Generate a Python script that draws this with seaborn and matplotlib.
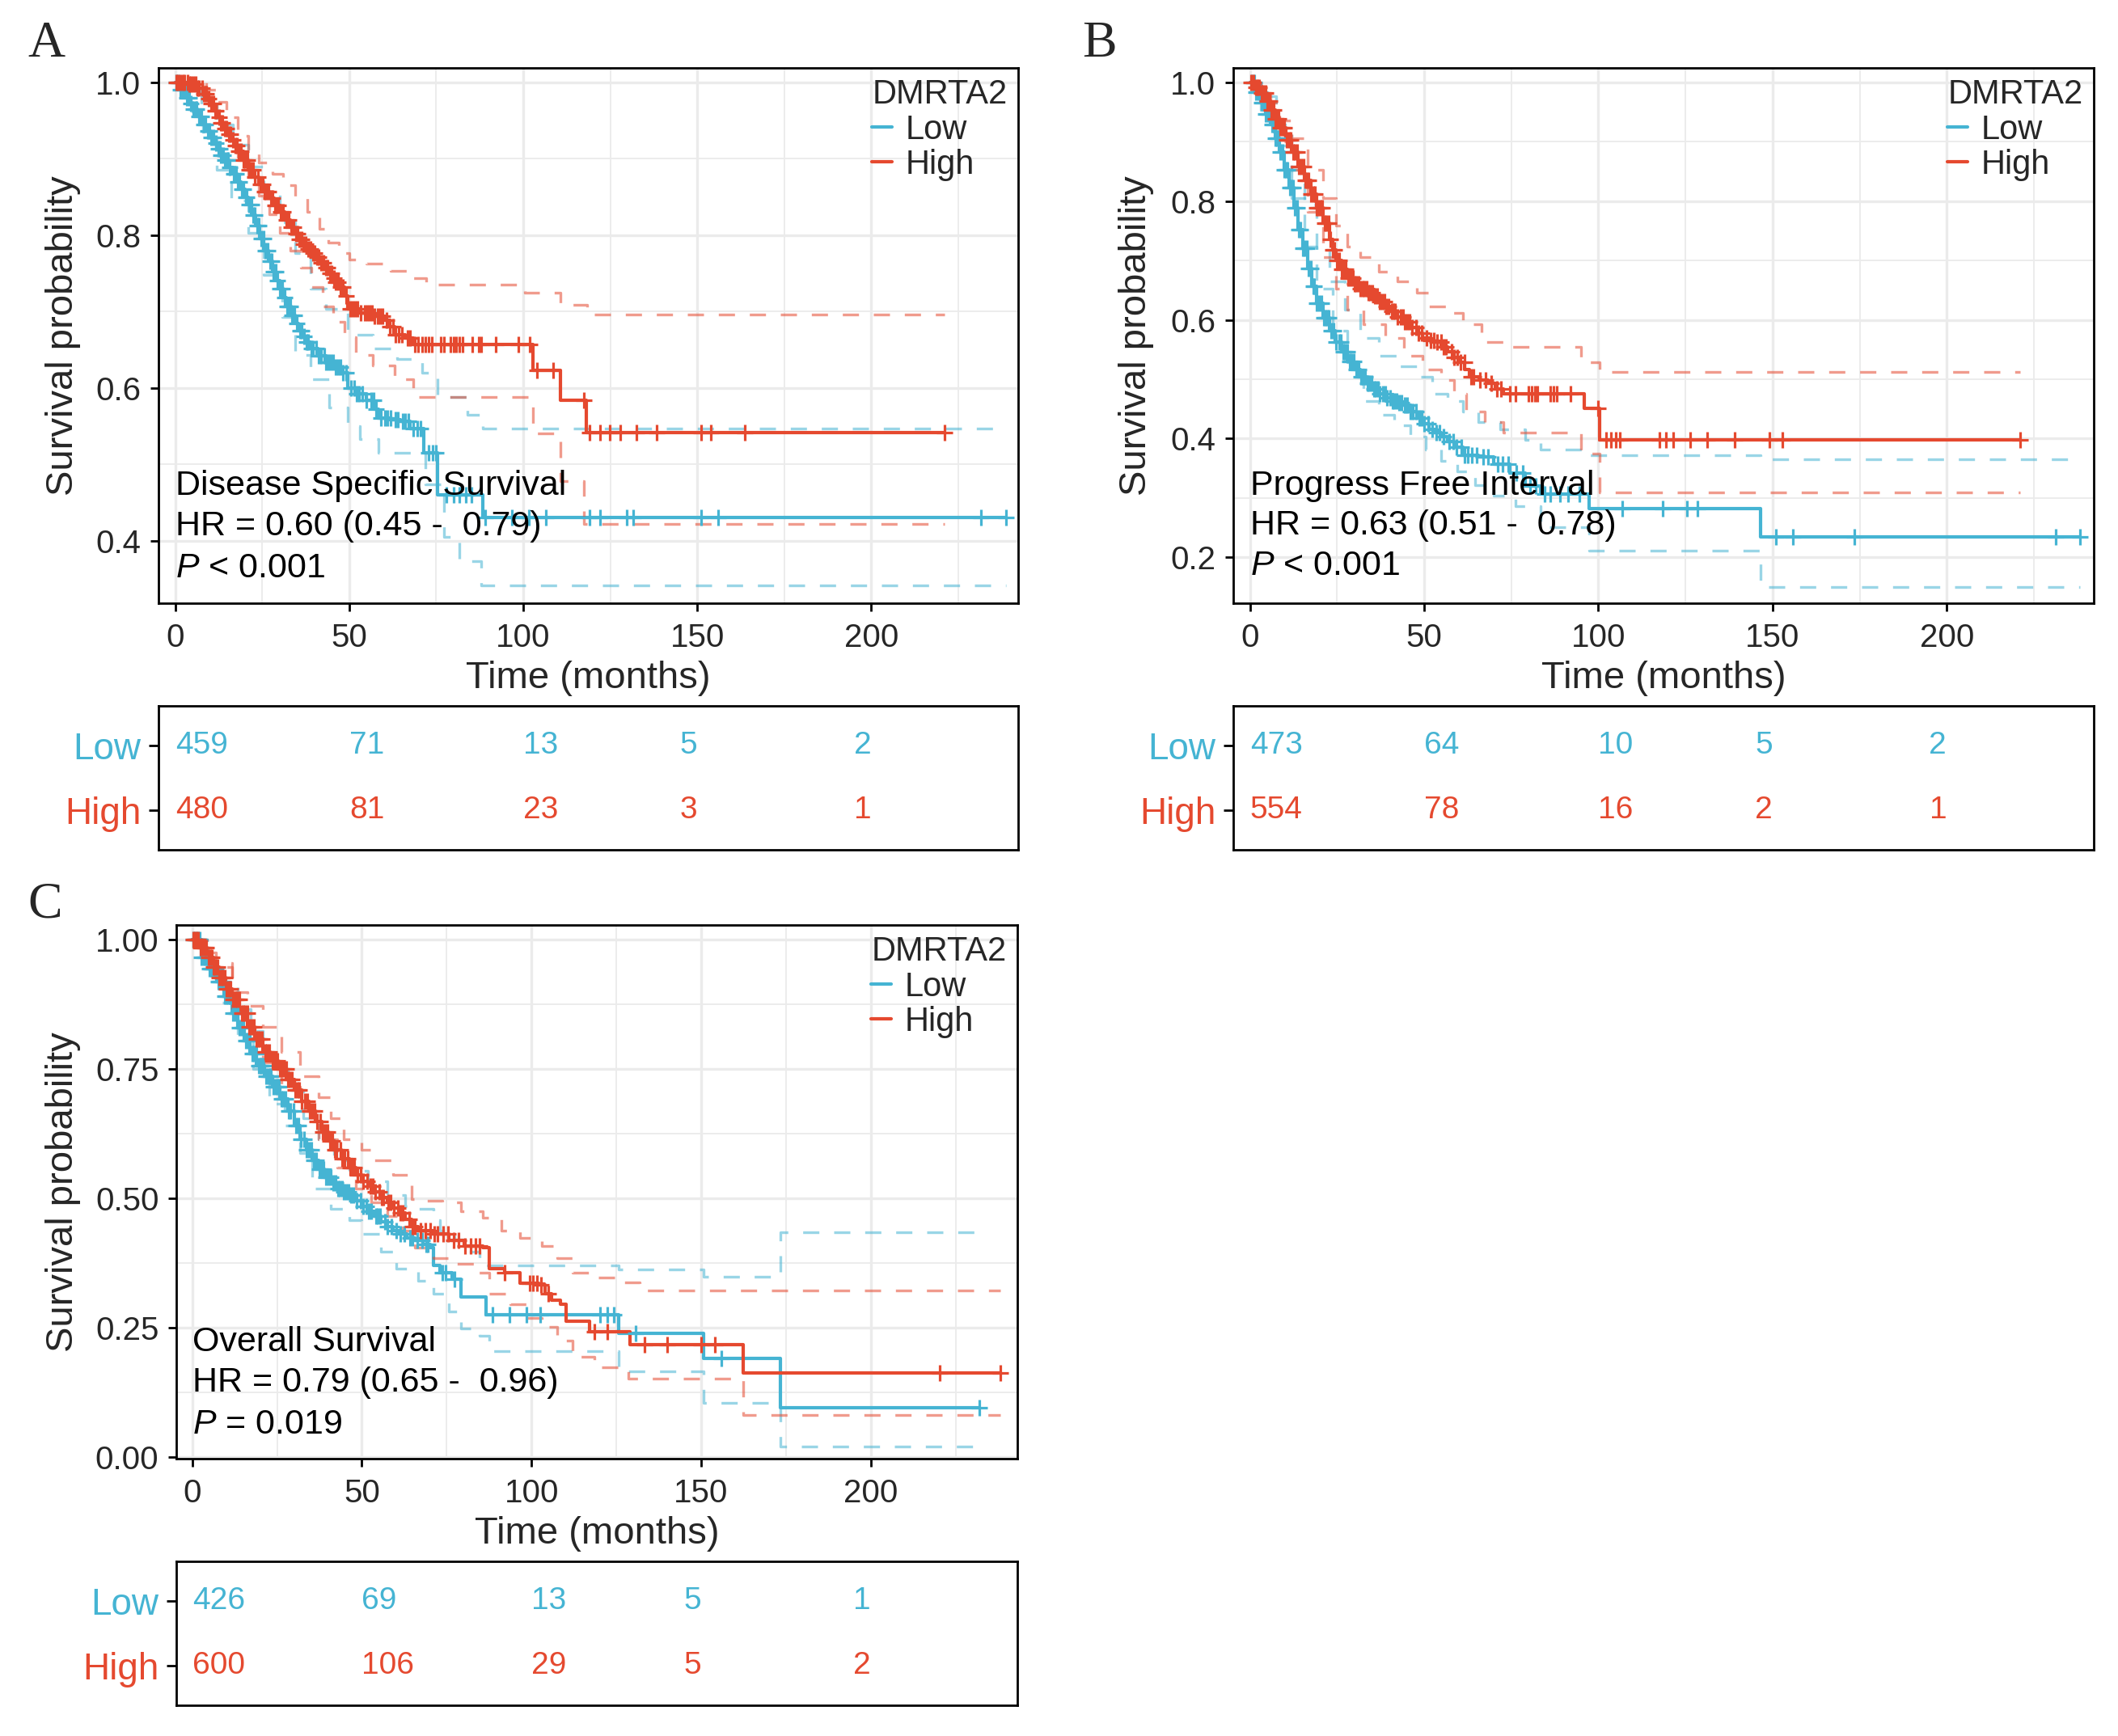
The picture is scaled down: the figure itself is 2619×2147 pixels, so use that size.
import numpy as np
import pandas as pd
import matplotlib
matplotlib.use("Agg")
import matplotlib.pyplot as plt
from matplotlib.lines import Line2D
import seaborn as sns

# colours (npg style)
LOW_COLOR = "#45B4D3"
HIGH_COLOR = "#E5492F"
GROUPS = ["Low", "High"]
RISK_TIMES = [0, 50, 100, 150, 200]

# ---------------- Panel A : Disease Specific Survival ----------------
A_low_t = [0, 1.5, 3, 4.2, 5, 6.3, 7.6, 8.8, 10, 11, 12, 13, 14, 15.3, 16.5, 17.8, 19, 20, 21, 22, 23, 24.2,
           25.4, 26.7, 28, 29, 30, 31, 32, 33.2, 34.4, 35.4, 36.5, 37.6, 38.8, 41, 43.3, 45.5, 47.8, 49.5,
           52, 55, 57, 58.5, 62, 64.7, 67.4, 71.4, 75.4, 88.4, 238.7]
A_low_s = [1.0, 0.99, 0.98, 0.972, 0.965, 0.955, 0.945, 0.936, 0.928, 0.92, 0.913, 0.905, 0.898, 0.889, 0.88,
           0.87, 0.86, 0.85, 0.84, 0.826, 0.812, 0.796, 0.78, 0.766, 0.752, 0.741, 0.73, 0.718, 0.707, 0.695,
           0.684, 0.675, 0.667, 0.66, 0.652, 0.642, 0.634, 0.627, 0.62, 0.60, 0.592, 0.584, 0.572, 0.56, 0.558,
           0.556, 0.547, 0.515, 0.46, 0.43, 0.43]
A_high_t = [0, 4, 6, 8, 9, 10, 11, 12, 13, 14, 15, 16, 17, 18, 19.5, 21, 22.5, 24, 25.5, 27, 28.5, 30, 31.5,
            33, 34.2, 35.5, 36.8, 38, 39.3, 40.6, 41.8, 43, 44, 45, 46, 47, 48.7, 49.5, 53, 57, 60.3, 61.7,
            63, 66, 68.3, 102.7, 110.7, 118.1, 221]
A_high_s = [1.0, 0.998, 0.992, 0.985, 0.979, 0.972, 0.963, 0.954, 0.947, 0.94, 0.932, 0.925, 0.917, 0.91,
            0.898, 0.886, 0.876, 0.866, 0.857, 0.848, 0.839, 0.83, 0.82, 0.81, 0.802, 0.794, 0.788, 0.782,
            0.776, 0.771, 0.764, 0.757, 0.75, 0.744, 0.738, 0.732, 0.72, 0.703, 0.698, 0.694, 0.689, 0.68,
            0.67, 0.665, 0.657, 0.623, 0.584, 0.541, 0.541]
A_low_up_t = [0, 3, 7.6, 12, 16.5, 21, 25.4, 30, 34.4, 38.8, 43.3, 49.5, 56.7, 63.8, 71, 75.4, 84, 88.4, 238.7]
A_low_up_s = [1.0, 0.99, 0.97, 0.945, 0.918, 0.89, 0.858, 0.817, 0.776, 0.73, 0.703, 0.67, 0.652, 0.638,
              0.62, 0.588, 0.565, 0.547, 0.547]
A_low_lo_t = [0, 2, 5, 8, 12, 16, 21, 25.4, 30.8, 34.4, 38.8, 44.2, 49.5, 53, 58.5, 71.9, 77.2, 81.7, 88, 238.7]
A_low_lo_s = [1.0, 0.975, 0.954, 0.925, 0.886, 0.845, 0.803, 0.748, 0.693, 0.643, 0.611, 0.574, 0.55, 0.533,
              0.515, 0.474, 0.405, 0.373, 0.341, 0.341]
A_high_up_t = [0, 5.8, 9, 12, 14.7, 18, 21, 24, 28, 31, 34.4, 38, 41.5, 44, 46.9, 50, 55, 62, 68.3, 72,
               100.4, 110.7, 118.3, 221]
A_high_up_s = [1.0, 1.0, 0.99, 0.975, 0.954, 0.93, 0.91, 0.895, 0.88, 0.865, 0.849, 0.83, 0.808, 0.79, 0.776,
               0.768, 0.763, 0.753, 0.744, 0.735, 0.725, 0.709, 0.696, 0.696]
A_high_lo_t = [0, 5.8, 9, 12, 15, 18, 21, 24, 27, 30, 33, 36, 39, 42.4, 45.5, 48.7, 52, 56.7, 63, 68.3,
               102.7, 110.7, 117.5, 221]
A_high_lo_s = [1.0, 0.995, 0.975, 0.954, 0.93, 0.903, 0.876, 0.852, 0.827, 0.803, 0.78, 0.757, 0.732, 0.707,
               0.686, 0.666, 0.643, 0.629, 0.611, 0.588, 0.54, 0.478, 0.422, 0.422]
A_low_cens = [0.4, 0.9, 1.5, 2.1, 2.8, 3.3, 4.1, 4.6, 5.3, 5.8, 6.2, 6.9, 7.4, 8.1, 8.7, 9.3, 9.8, 10.2, 10.9,
              11.6, 12.4, 12.9, 13.1, 13.8, 14.3, 14.9, 15.2, 15.7, 16.8, 17.1, 17.5, 18.0, 18.4, 19.1, 19.7,
              20.2, 20.6, 21.3, 21.9, 22.4, 22.8, 23.5, 24.1, 24.7, 25.3, 25.9, 26.6, 27.2, 27.8, 28.3, 28.9,
              29.4, 30.1, 30.8, 31.5, 32.2, 32.7, 33.1, 33.6, 34.3, 34.9, 35.8, 36.4, 37.1, 37.7, 38.3, 39.0,
              39.6, 40.4, 41.2, 41.9, 42.8, 43.3, 43.9, 44.6, 45.3, 46.0, 46.7, 47.4, 48.2, 49.1, 50.6, 51.4,
              52.2, 52.9, 53.8, 55.0, 56.2, 56.9, 57.6, 59.1, 60.3, 61.0, 61.8, 63.2, 64.0, 65.4, 66.1, 67.0,
              68.5, 69.6, 70.4, 72.8, 74.0, 75.0, 78.0, 80.1, 81.7, 83.5, 85.2, 89.0, 96.8, 101.6, 106.5,
              119.0, 122.0, 129.7, 131.6, 151.0, 155.9, 231.4, 238.7]
A_high_cens = [0.3, 0.8, 1.4, 2.2, 2.7, 3.5, 4.0, 4.6, 5.2, 5.8, 6.4, 6.9, 7.7, 8.3, 8.8, 9.6, 10.3, 10.9, 11.4,
               11.8, 12.7, 13.2, 13.6, 14.3, 14.8, 15.4, 15.9, 16.6, 17.2, 17.8, 18.3, 18.9, 19.5, 20.1, 20.7,
               21.2, 21.6, 22.3, 22.9, 23.8, 24.5, 25.1, 25.7, 26.2, 26.8, 27.4, 28.0, 28.6, 29.1, 29.7, 30.3,
               30.9, 31.8, 32.5, 33.2, 33.9, 34.6, 35.2, 35.7, 36.3, 36.9, 37.6, 38.2, 38.8, 39.5, 40.1, 40.7,
               41.3, 41.9, 42.6, 43.2, 43.8, 44.4, 44.9, 45.6, 46.1, 46.8, 47.4, 48.2, 49.0, 50.3, 50.9, 51.6,
               52.4, 53.3, 54.5, 55.2, 55.8, 56.5, 57.2, 58.1, 58.9, 59.6, 60.8, 61.7, 62.5, 63.3, 64.3, 65.1,
               66.7, 67.5, 68.9, 69.8, 71.0, 71.9, 72.8, 73.7, 76.3, 77.2, 79.0, 79.9, 80.8, 81.7, 82.6, 85.3,
               87.1, 88.0, 92.0, 98.7, 101.8, 104.0, 108.5, 117.5, 119.1, 122.0, 124.9, 127.8, 132.6, 138.4,
               151.0, 153.9, 163.6, 221.0]
A_risk_low = [459, 71, 13, 5, 2]
A_risk_high = [480, 81, 23, 3, 1]

# ---------------- Panel B : Progress Free Interval ----------------
B_low_t = [0, 1.5, 3.1, 4.5, 5.8, 7.2, 8.5, 9.8, 11.2, 12.5, 13.8, 15.1, 16.5, 17.8, 19.2, 21, 22.8, 24.5,
           26.3, 28, 29.9, 31.7, 33.5, 35.3, 37.1, 38.9, 40.6, 42.4, 44.2, 46, 47.8, 49.5, 51.3, 53.1, 54.9,
           56.7, 58.5, 61.2, 65.6, 70, 74.6, 79, 83.5, 97.3, 146.5, 238.3]
B_low_s = [1.0, 0.983, 0.965, 0.947, 0.929, 0.906, 0.882, 0.853, 0.823, 0.788, 0.752, 0.72, 0.687, 0.657,
           0.628, 0.603, 0.581, 0.562, 0.546, 0.53, 0.516, 0.504, 0.493, 0.484, 0.475, 0.469, 0.463, 0.46,
           0.457, 0.445, 0.434, 0.425, 0.416, 0.41, 0.404, 0.395, 0.386, 0.372, 0.369, 0.357, 0.342, 0.321,
           0.307, 0.282, 0.235, 0.235]
B_high_t = [0, 1.6, 3.1, 4.5, 5.8, 7.2, 8.5, 10.2, 12, 13.8, 15.6, 17.4, 19.2, 21, 22.8, 23.7, 24.6, 26.3, 28,
            29.9, 31.7, 33.5, 35.3, 37.1, 38.8, 40.6, 42.4, 44.2, 46, 47.8, 49.5, 51.3, 53, 54.9, 56.7, 58.5,
            60.3, 61.7, 63, 65.7, 68.3, 70.5, 72.8, 96, 100.4, 221]
B_high_s = [1.0, 0.992, 0.982, 0.968, 0.953, 0.938, 0.923, 0.903, 0.882, 0.858, 0.835, 0.812, 0.788, 0.762,
            0.735, 0.718, 0.70, 0.685, 0.67, 0.661, 0.652, 0.646, 0.64, 0.631, 0.622, 0.614, 0.605, 0.596,
            0.587, 0.578, 0.569, 0.566, 0.563, 0.555, 0.546, 0.537, 0.528, 0.516, 0.504, 0.498, 0.493, 0.484,
            0.475, 0.451, 0.398, 0.398]
B_low_up_t = [0, 3.1, 7.6, 12, 15.6, 19.2, 22.8, 27.2, 31.7, 37.1, 42.4, 47.8, 52.2, 56.7, 61.2, 65.6, 71.9,
              79, 83.5, 97.3, 146.5, 238.3]
B_low_up_s = [1.0, 0.976, 0.929, 0.853, 0.794, 0.717, 0.664, 0.617, 0.569, 0.54, 0.522, 0.504, 0.475, 0.463,
              0.445, 0.428, 0.416, 0.398, 0.381, 0.372, 0.365, 0.365]
B_low_lo_t = [0, 3.1, 7.6, 12, 15.6, 19.2, 23.7, 28, 32.6, 37.1, 41.5, 46, 50.4, 54.9, 59.4, 64.7, 70, 76.3,
              83.5, 97.3, 146.5, 238.3]
B_low_lo_s = [1.0, 0.953, 0.894, 0.805, 0.723, 0.652, 0.581, 0.528, 0.463, 0.44, 0.422, 0.404, 0.381, 0.363,
              0.345, 0.322, 0.304, 0.286, 0.251, 0.212, 0.15, 0.15]
B_high_up_t = [0, 3, 5.8, 8.5, 12, 16.5, 21, 24.6, 28, 31.7, 37.1, 42.4, 47.8, 51.3, 56.7, 61.2, 66.5, 72.8,
               95.1, 100.4, 221]
B_high_up_s = [1.0, 0.99, 0.965, 0.935, 0.906, 0.853, 0.805, 0.758, 0.723, 0.705, 0.681, 0.664, 0.646, 0.622,
               0.611, 0.593, 0.563, 0.555, 0.528, 0.512, 0.512]
B_high_lo_t = [0, 3, 5.8, 8.5, 12, 16.5, 21, 24.6, 28, 32.6, 38.8, 44.2, 49.5, 54.9, 58.5, 62, 67.4, 72.8,
               95, 100.4, 221]
B_high_lo_s = [1.0, 0.97, 0.941, 0.9, 0.853, 0.782, 0.705, 0.652, 0.617, 0.593, 0.569, 0.54, 0.516, 0.499,
               0.475, 0.445, 0.428, 0.41, 0.375, 0.309, 0.309]
B_low_cens = [0.5, 1.2, 1.8, 2.4, 2.9, 3.3, 3.9, 4.5, 5.2, 5.7, 6.4, 6.9, 7.3, 7.8, 8.1, 8.7, 9.4, 9.9, 10.2,
              10.8, 11.5, 11.9, 12.3, 12.9, 13.6, 14.0, 14.4, 15.1, 15.7, 16.3, 16.9, 17.6, 18.1, 18.5, 19.2,
              19.8, 20.4, 21.1, 21.7, 22.2, 22.6, 23.3, 23.9, 24.8, 25.5, 26.1, 26.7, 27.3, 27.9, 28.6, 29.2,
              29.8, 30.5, 31.2, 31.8, 32.4, 33.1, 33.7, 34.3, 34.9, 35.5, 36.1, 36.7, 37.3, 38.2, 38.8, 39.4,
              40.3, 40.9, 41.5, 42.1, 42.7, 43.6, 44.4, 45.2, 46.0, 46.8, 47.6, 48.5, 49.3, 50.1, 51.2, 52.3,
              53.4, 54.5, 55.6, 57.1, 58.3, 59.2, 60.7, 61.6, 62.5, 63.8, 65.0, 66.9, 68.3, 71.2, 72.6, 74.1,
              76.5, 78.2, 80.4, 82.1, 84.6, 86.3, 88.9, 91.2, 94.5, 106.8, 118.5, 125.4, 128.4, 150.9, 155.8,
              173.5, 231.4, 238.3]
B_high_cens = [0.4, 1.0, 1.6, 2.2, 2.7, 3.3, 3.8, 4.4, 4.9, 5.7, 6.2, 6.8, 7.2, 7.6, 8.2, 8.7, 9.3, 9.9,
               10.6, 11.2, 11.8, 12.4, 12.9, 13.5, 14.1, 14.7, 15.3, 15.8, 16.4, 16.9, 17.5, 18.1, 18.7, 19.2,
               19.6, 20.2, 20.8, 21.4, 21.9, 22.5, 23.1, 23.7, 24.3, 25.0, 25.6, 26.4, 27.0, 27.5, 28.2, 28.8,
               29.6, 30.1, 30.5, 31.2, 31.7, 32.3, 32.8, 33.4, 34.0, 34.5, 35.2, 35.8, 36.6, 37.2, 37.9, 38.5,
               39.1, 39.8, 40.6, 41.1, 41.7, 42.4, 43.2, 43.9, 44.5, 45.1, 45.8, 46.5, 47.6, 48.3, 49.2, 50.8,
               51.9, 52.7, 53.6, 54.8, 55.5, 56.3, 57.9, 58.6, 59.5, 60.4, 61.6, 63.4, 64.2, 65.9, 67.7, 69.3,
               70.8, 72.1, 74.6, 76.3, 79.9, 80.8, 81.7, 82.6, 86.2, 87.1, 88.0, 92.0, 100.0, 102.2, 103.6,
               104.9, 106.2, 117.6, 119.5, 121.5, 126.4, 131.3, 139.2, 149.0, 152.9, 221.0]
B_risk_low = [473, 64, 10, 5, 2]
B_risk_high = [554, 78, 16, 2, 1]

# ---------------- Panel C : Overall Survival ----------------
C_low_t = [0, 2.6, 4.8, 7.1, 9.4, 11.7, 13.5, 15.3, 17.1, 19, 21.3, 23.6, 25.8, 28.1, 30, 31.8, 33.6, 35.4,
           37.2, 39, 40.9, 42.7, 44.6, 46.4, 48.2, 50, 51.9, 53.7, 55.5, 57.4, 59.2, 61, 63.3, 65.6, 67.9,
           70.1, 71, 72.9, 76.5, 79.3, 86.6, 125.7, 150.6, 173.4, 231.9]
C_low_s = [1.0, 0.966, 0.943, 0.919, 0.89, 0.858, 0.83, 0.804, 0.78, 0.756, 0.736, 0.716, 0.692, 0.668,
           0.641, 0.614, 0.594, 0.573, 0.556, 0.54, 0.529, 0.519, 0.512, 0.506, 0.495, 0.485, 0.475, 0.465,
           0.455, 0.445, 0.438, 0.431, 0.424, 0.418, 0.411, 0.404, 0.37, 0.357, 0.343, 0.309, 0.275, 0.239,
           0.191, 0.096, 0.096]
C_high_t = [0, 2.2, 4.4, 6.2, 8, 9.9, 11.7, 14, 16.3, 18.5, 20.8, 23, 25.4, 27.7, 30, 32.2, 34.5, 36.3, 38.2,
            40, 41.8, 44, 46.4, 48.2, 50, 51.8, 53.7, 55.5, 57.4, 59.2, 61, 62.8, 64.7, 66.5, 71, 75.6, 80.2,
            85.7, 87.5, 92, 96.6, 102, 104, 105.8, 108.5, 110.3, 117, 129, 162.5, 238.3]
C_high_s = [1.0, 0.985, 0.966, 0.946, 0.926, 0.905, 0.885, 0.858, 0.831, 0.807, 0.783, 0.766, 0.75, 0.73,
            0.709, 0.688, 0.668, 0.648, 0.628, 0.611, 0.594, 0.577, 0.56, 0.546, 0.533, 0.523, 0.513, 0.502,
            0.492, 0.482, 0.472, 0.459, 0.445, 0.438, 0.431, 0.418, 0.408, 0.404, 0.364, 0.357, 0.336, 0.333,
            0.316, 0.303, 0.296, 0.262, 0.243, 0.218, 0.163, 0.163]
C_low_up_t = [0, 4.4, 9, 13.5, 17.2, 20.8, 24.5, 28.1, 32.7, 37.3, 41.8, 46.4, 51.9, 57.4, 62.8, 66.5, 71,
              72.9, 77.4, 80.2, 84.8, 125.7, 150.6, 173.4, 231.9]
C_low_up_s = [1.0, 0.96, 0.912, 0.865, 0.824, 0.783, 0.75, 0.709, 0.655, 0.614, 0.573, 0.553, 0.533, 0.506,
              0.485, 0.479, 0.458, 0.438, 0.421, 0.397, 0.37, 0.362, 0.348, 0.434, 0.434]
C_low_lo_t = [0, 4.4, 9, 13.5, 18, 22.6, 27.2, 31.8, 35.4, 40.9, 46.4, 50, 55.5, 60.1, 66.5, 71, 75.6, 79.3,
              84.8, 87.5, 125.7, 150.6, 173.4, 231.9]
C_low_lo_s = [1.0, 0.946, 0.878, 0.81, 0.75, 0.682, 0.641, 0.587, 0.519, 0.479, 0.458, 0.431, 0.397, 0.364,
              0.34, 0.316, 0.282, 0.248, 0.235, 0.204, 0.165, 0.104, 0.021, 0.021]
C_high_up_t = [0, 4, 7, 11.7, 16.3, 20.8, 26.3, 31.8, 37.3, 40.9, 44.6, 50, 53.7, 59.2, 64.7, 68.3, 73.8,
               79.3, 85.7, 91.1, 96.6, 103, 107.6, 112, 118.5, 125, 132, 238.3]
C_high_up_s = [1.0, 0.975, 0.946, 0.898, 0.871, 0.831, 0.783, 0.736, 0.695, 0.655, 0.614, 0.594, 0.573, 0.546,
               0.499, 0.496, 0.492, 0.475, 0.462, 0.438, 0.424, 0.408, 0.384, 0.357, 0.347, 0.338, 0.322, 0.322]
C_high_lo_t = [0, 4.4, 11.7, 16.3, 20.8, 26.3, 31.8, 37.3, 42.7, 48.2, 52.8, 57.4, 61.9, 65.6, 71, 77.4,
               82.9, 87.5, 93.8, 98.4, 103, 107.6, 112, 118.5, 128.6, 162.5, 238.3]
C_high_lo_s = [1.0, 0.955, 0.865, 0.81, 0.763, 0.716, 0.668, 0.614, 0.56, 0.519, 0.492, 0.465, 0.438, 0.404,
               0.384, 0.374, 0.357, 0.316, 0.296, 0.269, 0.252, 0.225, 0.194, 0.174, 0.152, 0.082, 0.082]
C_low_cens = [0.4, 0.9, 1.3, 1.8, 2.2, 2.8, 3.4, 3.9, 4.6, 5.0, 5.5, 5.9, 6.3, 6.9, 7.7, 8.0, 8.4, 9.1, 9.6,
              10.1, 10.5, 11.0, 11.3, 11.9, 12.8, 13.1, 13.4, 14.0, 14.6, 15.2, 15.9, 16.5, 17.0, 17.7, 18.3,
              18.9, 19.6, 20.0, 20.4, 21.1, 21.8, 22.5, 22.9, 23.3, 24.0, 24.7, 25.1, 25.6, 26.2, 26.8, 27.5,
              28.4, 29.0, 29.9, 30.6, 31.4, 32.1, 32.9, 33.7, 34.5, 35.1, 35.8, 36.6, 37.4, 38.0, 38.7, 39.5,
              40.1, 40.8, 41.6, 42.2, 42.9, 43.5, 44.1, 44.7, 45.3, 46.1, 46.9, 47.6, 48.4, 49.6, 50.3, 51.2,
              52.0, 52.7, 54.1, 54.7, 55.3, 56.8, 57.5, 58.6, 60.2, 61.3, 62.4, 64.1, 65.0, 66.3, 67.8, 68.9,
              69.5, 73.8, 74.7, 77.4, 88.6, 93.6, 98.5, 102.5, 120.3, 122.3, 124.3, 130.8, 156.0, 231.9]
C_high_cens = [0.3, 0.8, 1.3, 1.8, 2.4, 2.9, 3.6, 4.2, 4.8, 5.3, 5.9, 6.3, 6.7, 7.4, 8.0, 8.6, 9.0, 9.5, 10.1,
               10.7, 11.3, 11.9, 12.6, 13.1, 13.8, 14.5, 15.1, 15.6, 16.2, 16.7, 17.4, 18.1, 18.8, 19.3, 19.9,
               20.6, 21.5, 22.1, 22.7, 23.6, 24.4, 25.0, 25.8, 26.3, 27.0, 27.6, 28.2, 28.7, 29.3, 30.4, 31.0,
               31.6, 32.3, 33.1, 33.8, 34.7, 35.4, 36.1, 36.8, 37.7, 38.4, 39.1, 39.9, 40.5, 41.4, 42.0, 42.6,
               43.7, 44.2, 44.8, 45.9, 46.5, 47.1, 47.8, 48.6, 49.7, 50.4, 51.5, 52.4, 53.2, 53.9, 55.1, 55.8,
               56.4, 57.8, 58.5, 59.3, 60.6, 61.4, 62.1, 63.9, 64.8, 65.6, 67.3, 68.6, 70.2, 71.3, 72.4, 73.9,
               75.5, 77.1, 78.6, 80.3, 82.1, 83.4, 84.8, 92.0, 99.4, 100.5, 101.6, 102.7, 104.9, 118.5, 122.3,
               133.2, 140.1, 150.0, 154.0, 220.4, 238.3]
C_risk_low = [426, 69, 13, 5, 1]
C_risk_high = [600, 106, 29, 5, 2]

# ---------------- style ----------------
sns.set_theme(style="white")
plt.rcParams['font.family'] = ['Liberation Sans', 'DejaVu Sans']
plt.rcParams['mathtext.fontset'] = 'custom'
plt.rcParams['mathtext.rm'] = 'Liberation Sans'
plt.rcParams['mathtext.it'] = 'Liberation Sans:italic'

COLORS = {"Low": LOW_COLOR, "High": HIGH_COLOR}
GRID = "#EBEBEB"
TICK_FS = 29
TITLE_FS = 34
NOTE_FS = 31


def step_value(t, s, x):
    idx = np.searchsorted(np.asarray(t), np.asarray(x), side='right') - 1
    return np.asarray(s)[np.clip(idx, 0, len(s) - 1)]


def draw_km(ax, curves, ci_up, ci_lo, cens):
    for g in GROUPS:
        col = COLORS[g]
        for t, s in (ci_up[g], ci_lo[g]):
            sns.lineplot(x=t, y=s, ax=ax, color=col, alpha=0.55, lw=2.4, estimator=None, sort=False,
                         drawstyle='steps-post', linestyle=(0, (6, 5.5)))
        t, s = curves[g]
        sns.lineplot(x=t, y=s, ax=ax, color=col, lw=3.0, estimator=None, sort=False, drawstyle='steps-post')
        cy = step_value(t, s, cens[g])
        sns.scatterplot(x=cens[g], y=cy, ax=ax, marker='+', s=190, color=col, linewidth=2.3,
                        legend=False, zorder=5)


def style_axes(ax, ylim, yticks, ylabels, yminor, xlim):
    ax.set_xlim(*xlim)
    ax.set_ylim(*ylim)
    ax.set_xticks(RISK_TIMES)
    ax.set_xticks([25, 75, 125, 175, 225], minor=True)
    ax.set_yticks(yticks)
    ax.set_yticklabels(ylabels)
    ax.set_yticks(yminor, minor=True)
    ax.set_axisbelow(True)
    ax.grid(True, which='major', color=GRID, lw=2.4)
    ax.grid(True, which='minor', color=GRID, lw=1.3)
    ax.tick_params(which='major', length=7.5, width=2, color='black', labelsize=TICK_FS,
                   bottom=True, left=True)
    ax.tick_params(axis='x', pad=10)
    ax.tick_params(axis='y', pad=8)
    ax.tick_params(which='minor', length=0)
    for sp in ax.spines.values():
        sp.set_color('black')
        sp.set_linewidth(2.0)
    ax.set_xlabel("Time (months)", fontsize=TITLE_FS, labelpad=6)
    ax.set_ylabel("Survival probability", fontsize=TITLE_FS)
    handles = [Line2D([0], [0], color=COLORS[g], lw=3) for g in GROUPS]
    leg = ax.legend(handles, GROUPS, title="DMRTA2", loc='upper right', bbox_to_anchor=(1.0, 1.0),
                    frameon=False, fontsize=TICK_FS + 1, title_fontsize=TICK_FS + 1, handlelength=0.6,
                    handletextpad=0.4, labelspacing=0.08, borderpad=0.12, borderaxespad=0.2)
    leg._legend_box.align = "left"


def draw_notes(ax, lines, ys):
    for txt, y in zip(lines, ys):
        ax.text(0, y, txt, fontsize=NOTE_FS, ha='left', va='center', color='black', zorder=6)


def draw_table(tab, low, high, xlim):
    tab.set_xlim(*xlim)
    tab.set_ylim(0.4, 2.6)
    for vals, row, g in ((low, 2, "Low"), (high, 1, "High")):
        for t, v in zip(RISK_TIMES, vals):
            lab = str(v)
            tab.text(t, row, lab, color=COLORS[g], fontsize=28, va='center',
                     ha='left' if len(lab) > 1 else 'right')
    tab.set_xticks([])
    tab.set_yticks([2, 1])
    tab.set_yticklabels(GROUPS, fontsize=33)
    for lab, g in zip(tab.get_yticklabels(), GROUPS):
        lab.set_color(COLORS[g])
    tab.tick_params(axis='y', length=8.5, width=2, color='black', left=True, pad=7)
    tab.grid(False)
    for sp in tab.spines.values():
        sp.set_color('black')
        sp.set_linewidth(2.0)


fig = plt.figure(figsize=(26.19, 21.47), dpi=100)
fig.patch.set_facecolor('white')

XLIM_AB = (-4.8, 242.2)
XLIM_C = (-4.7, 243.2)

# Panel A
axA = fig.add_axes([0.07484, 0.65254, 0.40588, 0.30834])
tabA = fig.add_axes([0.07484, 0.51048, 0.40588, 0.08291])
draw_km(axA,
        {"Low": (A_low_t, A_low_s), "High": (A_high_t, A_high_s)},
        {"Low": (A_low_up_t, A_low_up_s), "High": (A_high_up_t, A_high_up_s)},
        {"Low": (A_low_lo_t, A_low_lo_s), "High": (A_high_lo_t, A_high_lo_s)},
        {"Low": A_low_cens, "High": A_high_cens})
style_axes(axA, (0.318, 1.019), [0.4, 0.6, 0.8, 1.0], ["0.4", "0.6", "0.8", "1.0"], [0.5, 0.7, 0.9], XLIM_AB)
draw_notes(axA, ["Disease Specific Survival", "HR = 0.60 (0.45 -  0.79)", "$\\mathit{P}$ < 0.001"],
           [0.472, 0.419, 0.364])
draw_table(tabA, A_risk_low, A_risk_high, XLIM_AB)

# Panel B
axB = fig.add_axes([0.58228, 0.65254, 0.40626, 0.30834])
tabB = fig.add_axes([0.58228, 0.51048, 0.40626, 0.08291])
draw_km(axB,
        {"Low": (B_low_t, B_low_s), "High": (B_high_t, B_high_s)},
        {"Low": (B_low_up_t, B_low_up_s), "High": (B_high_up_t, B_high_up_s)},
        {"Low": (B_low_lo_t, B_low_lo_s), "High": (B_high_lo_t, B_high_lo_s)},
        {"Low": B_low_cens, "High": B_high_cens})
style_axes(axB, (0.123, 1.024), [0.2, 0.4, 0.6, 0.8, 1.0], ["0.2", "0.4", "0.6", "0.8", "1.0"],
           [0.3, 0.5, 0.7, 0.9], XLIM_AB)
draw_notes(axB, ["Progress Free Interval", "HR = 0.63 (0.51 -  0.78)", "$\\mathit{P}$ < 0.001"],
           [0.321, 0.253, 0.185])
draw_table(tabB, B_risk_low, B_risk_high, XLIM_AB)

# Panel C
axC = fig.add_axes([0.08324, 0.15976, 0.39710, 0.30741])
tabC = fig.add_axes([0.08324, 0.01770, 0.39710, 0.08291])
draw_km(axC,
        {"Low": (C_low_t, C_low_s), "High": (C_high_t, C_high_s)},
        {"Low": (C_low_up_t, C_low_up_s), "High": (C_high_up_t, C_high_up_s)},
        {"Low": (C_low_lo_t, C_low_lo_s), "High": (C_high_lo_t, C_high_lo_s)},
        {"Low": C_low_cens, "High": C_high_cens})
style_axes(axC, (-0.003, 1.028), [0.0, 0.25, 0.5, 0.75, 1.0], ["0.00", "0.25", "0.50", "0.75", "1.00"],
           [0.125, 0.375, 0.625, 0.875], XLIM_C)
draw_notes(axC, ["Overall Survival", "HR = 0.79 (0.65 -  0.96)", "$\\mathit{P}$ = 0.019"],
           [0.2214, 0.1435, 0.0623])
draw_table(tabC, C_risk_low, C_risk_high, XLIM_C)

# y label positions (right edge of the rotated label, in axes fraction)
axA.yaxis.set_label_coords(-0.0903, 0.5)
axB.yaxis.set_label_coords(-0.0923, 0.5)
axC.yaxis.set_label_coords(-0.1135, 0.5)

# panel letters
for x, y, lab in ((0.013, 0.988, "A"), (0.511, 0.988, "B"), (0.013, 0.492, "C")):
    fig.text(x, y, lab, fontsize=46, family='Liberation Serif', va='top', ha='left')

fig.savefig("out.png", dpi=100, facecolor='white')
